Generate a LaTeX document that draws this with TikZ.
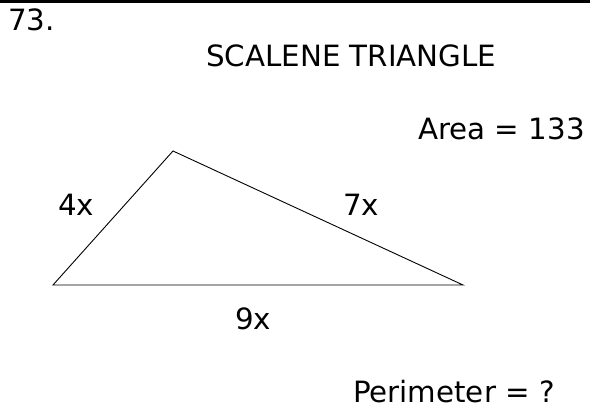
\documentclass[tikz,border=0pt]{standalone}
\usepackage{fontspec}
\setmainfont{DejaVu Sans}
\begin{document}
\begin{tikzpicture}[x=1pt,y=1pt,
  lbl/.style={inner sep=0pt,font=\fontsize{29.3}{35}\selectfont},
  edge/.style={line width=0.9pt,line cap=round}]
\useasboundingbox (0,0) rectangle (590,411);
\draw[line width=2.6pt] (0,409.7) -- (590,409.7);
\node[lbl,anchor=base west] (num) at (8,380) {73.};
\node[lbl,anchor=base west] (title) at (206,344) {SCALENE TRIANGLE};
\node[lbl,anchor=base east] (area) at (585,271) {Area = 133};
\node[lbl,anchor=base east] (perim) at (555,8) {Perimeter = ?};
\coordinate (A) at (53,126);
\coordinate (B) at (463,126);
\coordinate (C) at (173,260);
\draw[edge] (A) -- (B) -- (C) -- cycle;
\node[lbl,anchor=base west] (s4) at (58,195) {4x};
\node[lbl,anchor=base west] (s7) at (343,195) {7x};
\node[lbl,anchor=base west] (s9) at (235,81) {9x};
\end{tikzpicture}
\end{document}
